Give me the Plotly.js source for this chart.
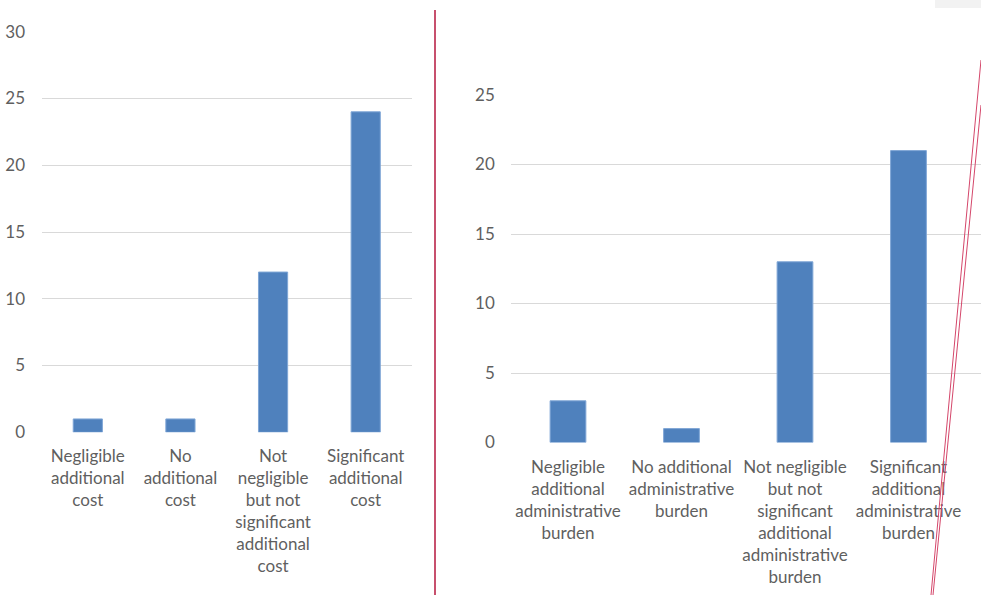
<!DOCTYPE html>
<html>
<head>
<meta charset="utf-8">
<script src="https://cdn.plot.ly/plotly-3.0.1.min.js"></script>
<style>html,body{margin:0;padding:0;background:#fff;}#chart{width:981px;height:595px;}</style>
</head>
<body>
<div id="chart"></div>
<script>
// Left chart: additional cost
const costCategories = [
  "Negligible<br>additional<br>cost",
  "No<br>additional<br>cost",
  "Not<br>negligible<br>but not<br>significant<br>additional<br>cost",
  "Significant<br>additional<br>cost"
];
const costValues = [1, 1, 12, 24];
const costTicks = [0, 5, 10, 15, 20, 25, 30];

// Right chart: additional administrative burden
const burdenCategories = [
  "Negligible<br>additional<br>administrative<br>burden",
  "No additional<br>administrative<br>burden",
  "Not negligible<br>but not<br>significant<br>additional<br>administrative<br>burden",
  "Significant<br>additional<br>administrative<br>burden"
];
const burdenValues = [3, 1, 13, 21];
const burdenTicks = [0, 5, 10, 15, 20, 25];

const W = 981, H = 595;
const px = x => x / W;
const py = y => (H - y) / H;

const barColor = '#4f81bd';
const barLine = '#7fa6d6';
const gridColor = '#d9d9d9';
const labelFont = {family: 'Lato, "Open Sans", sans-serif', size: 17, color: '#5f5f5f'};

const traces = [
  {
    type: 'bar', x: costCategories, y: costValues, xaxis: 'x', yaxis: 'y',
    marker: {color: barColor, line: {color: barLine, width: 1}},
    hoverinfo: 'x+y', showlegend: false
  },
  {
    type: 'bar', x: burdenCategories, y: burdenValues, xaxis: 'x2', yaxis: 'y2',
    marker: {color: barColor, line: {color: barLine, width: 1}},
    hoverinfo: 'x+y', showlegend: false
  }
];

const xCommon = {
  type: 'category', showgrid: false, zeroline: false, showline: false,
  ticks: 'outside', ticklen: 8, tickcolor: 'rgba(0,0,0,0)',
  tickfont: labelFont, tickangle: 0, fixedrange: true
};
const yCommon = {
  showgrid: true, gridcolor: gridColor, gridwidth: 1, zeroline: false, showline: false,
  ticks: 'outside', ticklen: 12, tickcolor: 'rgba(0,0,0,0)',
  tickfont: labelFont, tickmode: 'array', fixedrange: true
};

const layout = {
  width: W, height: H,
  margin: {l: 0, r: 0, t: 0, b: 0},
  paper_bgcolor: '#ffffff', plot_bgcolor: 'rgba(0,0,0,0)',
  bargap: 0.685,
  showlegend: false,
  xaxis: Object.assign({}, xCommon, {domain: [px(41.5), px(412)], anchor: 'y', range: [-0.5, 3.5]}),
  yaxis: Object.assign({}, yCommon, {domain: [py(432.3), py(31.7)], anchor: 'x', range: [0, 30],
    tickvals: costTicks, ticktext: costTicks.map(String)}),
  xaxis2: Object.assign({}, xCommon, {domain: [px(511.25), 1], anchor: 'y2', range: [-0.5, 3.639], ticklen: 9}),
  yaxis2: Object.assign({}, yCommon, {domain: [py(442.5), py(95)], anchor: 'x2', range: [0, 25],
    tickvals: burdenTicks, ticktext: burdenTicks.map(String)}),
  shapes: [
    {type: 'rect', xref: 'paper', yref: 'paper', x0: px(935), x1: 1, y0: py(8), y1: 1,
     fillcolor: '#f2f2f2', line: {width: 0}, layer: 'below'},
    {type: 'line', xref: 'paper', yref: 'paper', x0: px(435), x1: px(435), y0: 0, y1: py(10),
     line: {color: '#b5163c', width: 1.5}},
    {type: 'line', xref: 'paper', yref: 'paper', x0: 1, y0: py(60), x1: px(931), y1: 0,
     line: {color: '#d4466a', width: 1}},
    {type: 'line', xref: 'paper', yref: 'paper', x0: 1, y0: py(105), x1: px(933), y1: 0,
     line: {color: '#d4466a', width: 1}}
  ]
};

Plotly.newPlot('chart', traces, layout, {displayModeBar: false, staticPlot: true});
</script>
</body>
</html>
